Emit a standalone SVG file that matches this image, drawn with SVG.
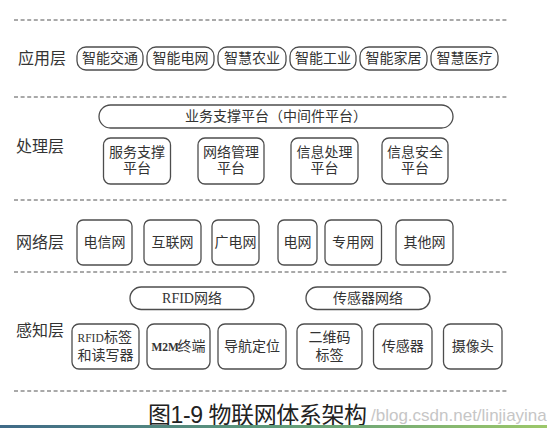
<svg xmlns="http://www.w3.org/2000/svg" width="547" height="428" viewBox="0 0 547 428">
<defs>
<linearGradient id="bar" x1="0" y1="0" x2="1" y2="0">
<stop offset="0" stop-color="#3f6a88"/>
<stop offset="0.5" stop-color="#5f9a7a"/>
<stop offset="1" stop-color="#9cc86a"/>
</linearGradient>
<style>
.dash{stroke:#555;stroke-width:1.2;stroke-dasharray:4 2.6;fill:none}
.box{fill:#fff;stroke:#4d4d4d;stroke-width:1.3}
.t{font-family:"Liberation Serif","Noto Sans CJK SC",serif;font-size:14px;fill:#333;text-anchor:middle;dominant-baseline:central}
.ts{font-family:"Liberation Serif","Noto Sans CJK SC",serif;font-size:14px;fill:#333;text-anchor:start;dominant-baseline:central}
.lat{font-family:"Liberation Serif",serif;font-size:11.5px;fill:#333;text-anchor:start;dominant-baseline:central}
.layer{font-family:"Noto Sans CJK SC",sans-serif;font-size:16px;fill:#333;dominant-baseline:central}
.cap{font-family:"Liberation Sans","Noto Sans CJK SC",sans-serif;font-size:23px;fill:#222}
.wm{font-family:"Liberation Sans",sans-serif;font-size:17px;fill:#c6c6c6}
</style>
</defs>
<rect width="547" height="428" fill="#fff"/>

<g id="separators">
<line class="dash" x1="14" y1="20" x2="507" y2="20"/>
<line class="dash" x1="14" y1="97" x2="507" y2="97"/>
<line class="dash" x1="14" y1="200" x2="507" y2="200"/>
<line class="dash" x1="14" y1="272" x2="507" y2="272"/>
<line class="dash" x1="14" y1="391" x2="507" y2="391"/>
</g>

<g id="layer-app">
<text class="layer" x="18" y="57">应用层</text>
<g id="app1"><rect class="box" x="77" y="47" width="66" height="23" rx="9"/><text class="t" x="110" y="58.5">智能交通</text></g>
<g id="app2"><rect class="box" x="147" y="47" width="67" height="23" rx="9"/><text class="t" x="180.5" y="58.5">智能电网</text></g>
<g id="app3"><rect class="box" x="218" y="47" width="68" height="23" rx="9"/><text class="t" x="252" y="58.5">智慧农业</text></g>
<g id="app4"><rect class="box" x="290" y="47" width="66" height="23" rx="9"/><text class="t" x="323" y="58.5">智能工业</text></g>
<g id="app5"><rect class="box" x="360" y="47" width="67" height="23" rx="9"/><text class="t" x="393.5" y="58.5">智能家居</text></g>
<g id="app6"><rect class="box" x="431" y="47" width="67" height="23" rx="9"/><text class="t" x="464.5" y="58.5">智慧医疗</text></g>
</g>

<g id="layer-proc">
<text class="layer" x="16" y="145">处理层</text>
<g id="middleware"><rect class="box" x="99" y="105" width="354" height="23" rx="11.5"/><text class="t" x="276" y="116.5">业务支撑平台（中间件平台）</text></g>
<g id="proc1"><rect class="box" x="103.5" y="138" width="67" height="46" rx="7"/><text class="t" x="137" y="152.5">服务支撑</text><text class="t" x="137" y="168.5">平台</text></g>
<g id="proc2"><rect class="box" x="198" y="138" width="66" height="46" rx="7"/><text class="t" x="231" y="152.5">网络管理</text><text class="t" x="231" y="168.5">平台</text></g>
<g id="proc3"><rect class="box" x="291" y="138" width="67" height="46" rx="7"/><text class="t" x="324.5" y="152.5">信息处理</text><text class="t" x="324.5" y="168.5">平台</text></g>
<g id="proc4"><rect class="box" x="382" y="138" width="66" height="46" rx="7"/><text class="t" x="415" y="152.5">信息安全</text><text class="t" x="415" y="168.5">平台</text></g>
</g>

<g id="layer-net">
<text class="layer" x="16" y="241">网络层</text>
<g id="net1"><rect class="box" x="77" y="220" width="55" height="45" rx="6"/><text class="t" x="104.5" y="242.5">电信网</text></g>
<g id="net2"><rect class="box" x="144" y="220" width="57" height="45" rx="6"/><text class="t" x="172.5" y="242.5">互联网</text></g>
<g id="net3"><rect class="box" x="212" y="220" width="47" height="45" rx="6"/><text class="t" x="235.5" y="242.5">广电网</text></g>
<g id="net4"><rect class="box" x="278" y="220" width="39" height="45" rx="6"/><text class="t" x="297.5" y="242.5">电网</text></g>
<g id="net5"><rect class="box" x="325" y="220" width="56.5" height="45" rx="6"/><text class="t" x="353" y="242.5">专用网</text></g>
<g id="net6"><rect class="box" x="396" y="220" width="57" height="45" rx="6"/><text class="t" x="424.5" y="242.5">其他网</text></g>
</g>

<g id="layer-sense">
<text class="layer" x="16" y="329">感知层</text>
<g id="rfidnet"><rect class="box" x="130" y="287" width="124" height="22.5" rx="11.25"/><text class="t" x="192" y="298.5">RFID网络</text></g>
<g id="sensornet"><rect class="box" x="306" y="287" width="124" height="22.5" rx="11.25"/><text class="t" x="368" y="298.5">传感器网络</text></g>
<g id="s1"><rect class="box" x="72" y="324" width="67" height="45" rx="7"/><text class="lat" x="77.5" y="337.5">RFID</text><text class="ts" x="104" y="337.5">标签</text><text class="t" x="105.5" y="355.5">和读写器</text></g>
<g id="s2"><rect class="box" x="147" y="324" width="63" height="45" rx="7"/><text class="lat" x="151.5" y="346.5" font-size="10.5" font-weight="bold">M2M</text><text class="ts" x="177.5" y="346.5">终端</text></g>
<g id="s3"><rect class="box" x="218" y="324" width="68" height="45" rx="7"/><text class="t" x="252" y="346.5">导航定位</text></g>
<g id="s4"><rect class="box" x="297" y="324" width="65" height="45" rx="7"/><text class="t" x="329.5" y="337.5">二维码</text><text class="t" x="329.5" y="355.5">标签</text></g>
<g id="s5"><rect class="box" x="373.5" y="324" width="58.5" height="45" rx="7"/><text class="t" x="402.75" y="346.5">传感器</text></g>
<g id="s6"><rect class="box" x="443.5" y="324" width="58.5" height="45" rx="7"/><text class="t" x="472.75" y="346.5">摄像头</text></g>
</g>

<text class="wm" x="371" y="421">/blog.csdn.net/linjiayina</text>
<text class="cap" x="148" y="423" textLength="219">图1-9 物联网体系架构</text>
<rect x="0" y="425" width="547" height="3" fill="url(#bar)"/>
</svg>
